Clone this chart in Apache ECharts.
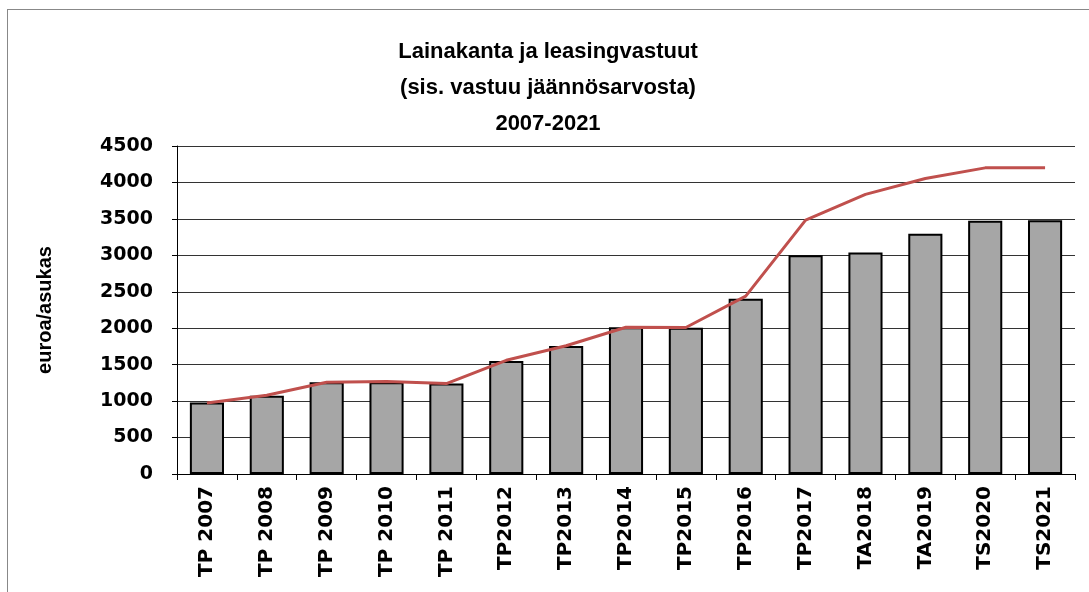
<!DOCTYPE html>
<html><head><meta charset="utf-8">
<script src="https://cdn.jsdelivr.net/npm/echarts@6/dist/echarts.min.js"></script>
<style>
html,body{margin:0;padding:0;background:#fff;}
#frame{position:absolute;left:7px;top:9px;width:1100px;height:600px;border:1px solid #888;box-sizing:border-box;}
#c{position:absolute;left:0;top:0;width:1089px;height:592px;}
</style></head>
<body>
<div id="frame"></div>
<div id="c"></div>
<script>
const categories = ['TP 2007','TP 2008','TP 2009','TP 2010','TP 2011','TP2012','TP2013','TP2014','TP2015','TP2016','TP2017','TA2018','TA2019','TS2020','TS2021'];
const barValues = [980, 1075, 1260, 1260, 1240, 1550, 1755, 2013, 2008, 2405, 3000, 3040, 3296, 3474, 3480];
const lineValues = [975, 1080, 1260, 1270, 1240, 1560, 1760, 2013, 2010, 2440, 3484, 3836, 4055, 4200, 4200];
const yTicks = {min: 0, max: 4500, interval: 500};
const titleLines = ['Lainakanta ja leasingvastuut', '(sis. vastuu jäännösarvosta)', '2007-2021'];
const yName = 'euroa/asukas';

const chart = echarts.init(document.getElementById('c'), null, {renderer: 'canvas'});
const font = '"Liberation Sans", Arial, sans-serif';
const font2 = '"DejaVu Sans", sans-serif';
chart.setOption({
  animation: false,
  backgroundColor: 'transparent',
  title: {
    text: titleLines.join('\n'),
    left: 543, top: 29, textAlign: 'center',
    textStyle: {fontFamily: font, fontWeight: 'bold', fontSize: 22, lineHeight: 36, color: '#000'}
  },
  grid: {left: 177, right: 14, top: 146, bottom: 118, containLabel: false},
  xAxis: {
    type: 'category', data: categories,
    axisLine: {lineStyle: {color: '#000', width: 1}},
    axisTick: {show: true, length: 6, lineStyle: {color: '#000'}},
    axisLabel: {rotate: 90, margin: 12, fontFamily: font2, fontWeight: 'bold', fontSize: 20, color: '#000'}
  },
  yAxis: {
    type: 'value', min: yTicks.min, max: yTicks.max, interval: yTicks.interval,
    name: yName, nameLocation: 'middle', nameGap: 122, nameRotate: 90,
    nameTextStyle: {fontFamily: font, fontWeight: 'bold', fontSize: 20, color: '#000'},
    axisLine: {show: true, lineStyle: {color: '#000', width: 1}},
    axisTick: {show: true, length: 5, lineStyle: {color: '#000'}},
    axisLabel: {margin: 24, fontFamily: font2, fontWeight: 'bold', fontSize: 19, color: '#000',
      formatter: v => String(v)},
    splitLine: {show: true, lineStyle: {color: '#333', width: 1}}
  },
  series: [
    {
      type: 'bar', data: barValues, barWidth: '57%',
      itemStyle: {color: '#A6A6A6', borderColor: '#000', borderWidth: 2}
    },
    {
      type: 'line', data: lineValues, symbol: 'none',
      lineStyle: {color: '#C0504D', width: 3}
    }
  ]
});
</script>
</body></html>
